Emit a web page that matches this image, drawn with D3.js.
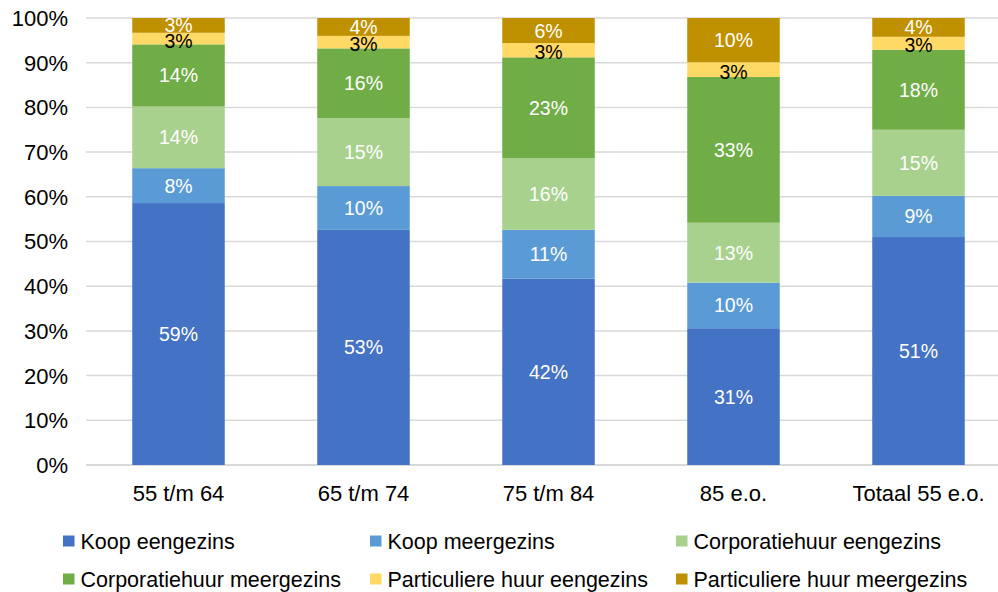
<!DOCTYPE html>
<html><head><meta charset="utf-8">
<script src="https://cdn.jsdelivr.net/npm/d3@7"></script>
<style>body{margin:0;background:#fff}svg{display:block}text{font-family:"Liberation Sans",Arial,sans-serif}</style>
</head><body><svg id="c" width="998" height="592"></svg>
<script>
const categories = ["55 t/m 64","65 t/m 74","75 t/m 84","85 e.o.","Totaal 55 e.o."];
const seriesNames = ["Koop eengezins","Koop meergezins","Corporatiehuur eengezins","Corporatiehuur meergezins","Particuliere huur eengezins","Particuliere huur meergezins"];
const koopEengezins = [58.6,52.6,41.7,30.6,51.0];
const koopMeergezins = [7.8,9.8,10.9,10.2,9.2];
const corpEengezins = [13.8,15.2,16.0,13.4,14.8];
const corpMeergezins = [13.9,15.6,22.6,32.6,17.9];
const partEengezins = [2.6,2.8,3.2,3.3,2.9];
const partMeergezins = [3.3,4.0,5.6,9.9,4.2];
const yTicks = [0,10,20,30,40,50,60,70,80,90,100];
const colors = ["#4472C4","#5B9BD5","#A9D18E","#70AD47","#FFD966","#BF9000"];
const labelColors = ["#fff","#fff","#fff","#fff","#000","#fff"];

const seriesValues = [koopEengezins,koopMeergezins,corpEengezins,corpMeergezins,partEengezins,partMeergezins];
const rows = categories.map((c,i)=>{const o={cat:c};seriesNames.forEach((s,j)=>o[s]=seriesValues[j][i]);return o;});
const stacked = d3.stack().keys(seriesNames)(rows);

const svg = d3.select("#c");
const x = d3.scaleBand().domain(categories).range([86,1011]).paddingInner(0.5).paddingOuter(0.25);
const y = d3.scaleLinear().domain([0,100]).range([465,18]);

// gridlines
svg.append("g").selectAll("line").data(yTicks).join("line")
  .attr("x1",86).attr("x2",998).attr("y1",d=>y(d)).attr("y2",d=>y(d))
  .attr("stroke","#d9d9d9").attr("stroke-width",d=>d===0?2:1.5);

// y axis labels
svg.append("g").selectAll("text").data(yTicks).join("text")
  .attr("x",68).attr("y",d=>y(d)).attr("dy","0.36em").attr("text-anchor","end")
  .attr("font-size","22px").attr("fill","#000").text(d=>d+"%");

// bars
const g = svg.append("g");
stacked.forEach((s,j)=>{
  g.append("g").selectAll("rect").data(s).join("rect")
    .attr("x",d=>x(d.data.cat)).attr("width",x.bandwidth())
    .attr("y",d=>y(d[1])).attr("height",d=>y(d[0])-y(d[1]))
    .attr("fill",colors[j]);
});
// labels
stacked.forEach((s,j)=>{
  g.append("g").selectAll("text").data(s).join("text")
    .attr("x",d=>x(d.data.cat)+x.bandwidth()/2)
    .attr("y",d=>(y(d[0])+y(d[1]))/2 + (j===4?2:0))
    .attr("dy","0.36em").attr("text-anchor","middle")
    .attr("font-size","19.5px").attr("fill",labelColors[j])
    .text(d=>Math.round(d[1]-d[0])+"%");
});

// x labels
svg.append("g").selectAll("text").data(categories).join("text")
  .attr("x",d=>x(d)+x.bandwidth()/2).attr("y",493).attr("dy","0.36em")
  .attr("text-anchor","middle").attr("font-size","22px").attr("fill","#000").text(d=>d);

// legend
const legX = [63,370,676], legY = [541,579];
const leg = svg.append("g");
seriesNames.forEach((s,j)=>{
  const lx = legX[j%3], ly = legY[Math.floor(j/3)];
  leg.append("rect").attr("x",lx).attr("y",ly-5.5).attr("width",11.5).attr("height",11).attr("fill",colors[j]);
  leg.append("text").attr("x",lx+17.5).attr("y",ly).attr("dy","0.36em")
    .attr("font-size","21.5px").attr("fill","#000").text(s);
});
</script></body></html>
